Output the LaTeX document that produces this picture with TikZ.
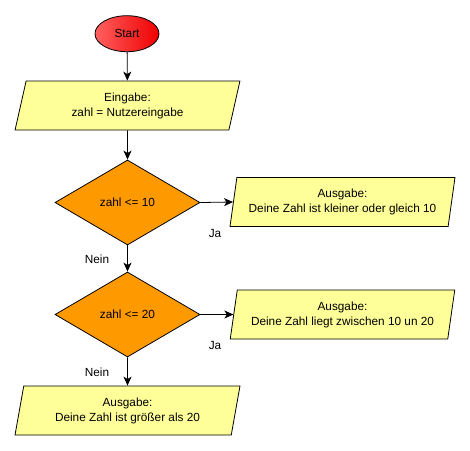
\documentclass[tikz,border=0pt]{standalone}
\usepackage{fontspec}
\setmainfont{Liberation Sans}
\usetikzlibrary{shapes.geometric,arrows.meta}
\definecolor{boxyellow}{HTML}{FFFF99}
\definecolor{decorange}{HTML}{FF9900}
\definecolor{startlight}{HTML}{FF6060}
\definecolor{startdark}{HTML}{F00000}
\begin{document}
\begin{tikzpicture}[x=1pt,y=-1pt,
  every node/.style={font=\fontsize{11.8}{15}\selectfont, align=center},
  startnode/.style={ellipse, draw=black, line width=0.8pt, left color=startlight, right color=startdark,
    minimum width=64pt, minimum height=36pt, inner sep=0pt},
  iobox/.style={trapezium, trapezium left angle=76.8, trapezium right angle=103.2,
    trapezium stretches=true, draw=black, line width=0.8pt, fill=boxyellow,
    minimum width=225pt, minimum height=49pt, inner sep=0pt},
  decision/.style={diamond, draw=black, line width=0.8pt, fill=decorange,
    minimum width=145pt, minimum height=85pt, inner sep=0pt},
  flow/.style={draw=black, line width=0.8pt, -{Stealth[length=9pt,width=8pt,inset=2.5pt]}},
  lbl/.style={inner sep=0pt}
]
\useasboundingbox (0,0) rectangle (470,450);
\node[startnode] (start) at (127,33.7) {Start};
\node[iobox] (in) at (127.5,105.5) {Eingabe:\\zahl = Nutzereingabe};
\node[decision] (d1) at (127.5,202.5) {zahl <= 10};
\node[iobox] (o1) at (342.5,202) {Ausgabe:\\Deine Zahl ist kleiner oder gleich 10};
\node[decision] (d2) at (127.5,314.5) {zahl <= 20};
\node[iobox] (o2) at (342.5,314.5) {Ausgabe:\\Deine Zahl liegt zwischen 10 un 20};
\node[iobox] (o3) at (127.5,410.5) {Ausgabe:\\Deine Zahl ist größer als 20};
\node[lbl] (ja1) at (215,233) {Ja};
\node[lbl] (ja2) at (215,345) {Ja};
\node[lbl] (nein1) at (97,259) {Nein};
\node[lbl] (nein2) at (97,372) {Nein};
\draw[flow] (start) -- (in);
\draw[flow] (in) -- (d1);
\draw[flow] (d1.east) -- (o1.left side);
\draw[flow] (d1.south) -- (d2.north);
\draw[flow] (d2.east) -- (o2.left side);
\draw[flow] (d2.south) -- (o3.north);
\end{tikzpicture}
\end{document}
